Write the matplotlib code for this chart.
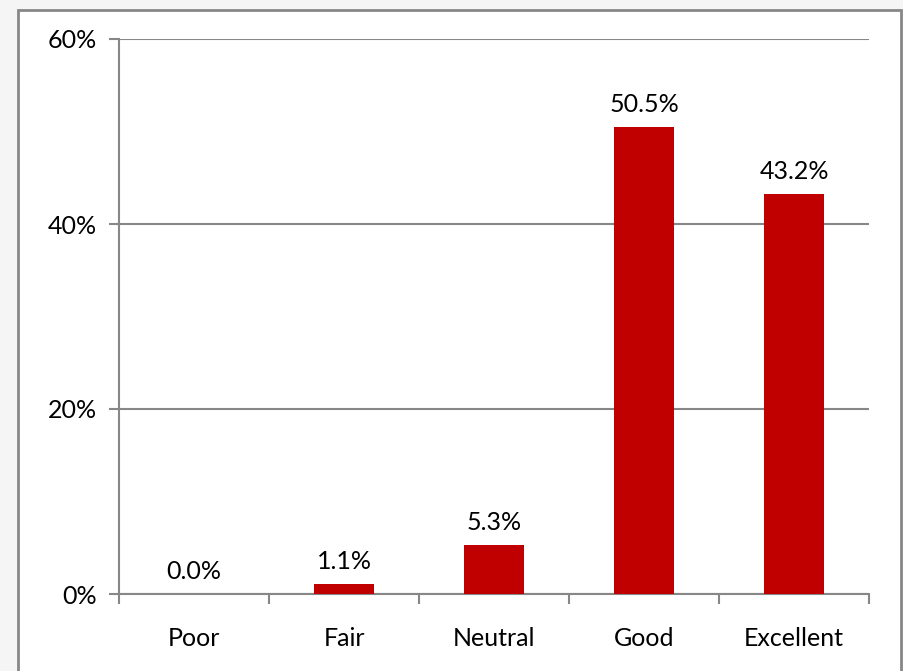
import matplotlib

matplotlib.use("Agg")

import matplotlib.pyplot as plt
from matplotlib.patches import Rectangle
from matplotlib.ticker import FuncFormatter, MultipleLocator


CATEGORIES = ["Poor", "Fair", "Neutral", "Good", "Excellent"]
SHARES = [0.0, 1.1, 5.3, 50.5, 43.2]
BAR_COLOR = "#c00000"
GREY = "#878787"

plt.rcParams["font.family"] = ["Lato", "DejaVu Sans"]

fig = plt.figure(figsize=(9.04, 6.71), dpi=100, facecolor="#f5f5f5")

# Cadre blanc du graphique (façon export tableur)
frame = Rectangle(
    (18 / 904, -0.05), (901 - 18) / 904, 1.05 - 10 / 671,
    transform=fig.transFigure, facecolor="white", edgecolor=GREY,
    linewidth=2, zorder=-5,
)
fig.patches.append(frame)

ax = fig.add_axes([119 / 904, 1 - 594 / 671, 750 / 904, 555 / 671])
ax.set_zorder(1)
ax.set_facecolor("white")

positions = list(range(len(CATEGORIES)))
bars = ax.bar(positions, SHARES, width=0.4, color=BAR_COLOR, zorder=3)

for bar, value in zip(bars, SHARES):
    ax.annotate(
        f"{value:.1f}%",
        (bar.get_x() + bar.get_width() / 2, bar.get_height()),
        xytext=(0, 8), textcoords="offset points",
        ha="center", va="bottom", fontsize=18, color="black",
    )

ax.set_xlim(-0.5, len(CATEGORIES) - 0.5)
ax.set_ylim(0, 60)
ax.yaxis.set_major_locator(MultipleLocator(20))
ax.yaxis.set_major_formatter(FuncFormatter(lambda v, _: f"{v:.0f}%"))
ax.grid(axis="y", color=GREY, linewidth=1.5, zorder=1)

# Graduations aux frontières des catégories, libellés au centre
ax.set_xticks([p - 0.5 for p in positions] + [len(CATEGORIES) - 0.5])
ax.set_xticklabels([])
ax.set_xticks(positions, minor=True)
ax.set_xticklabels(CATEGORIES, minor=True)
ax.tick_params(axis="x", which="major", length=7, width=1.5, color=GREY, direction="out")
ax.tick_params(axis="x", which="minor", length=0, pad=24, labelsize=18, labelcolor="black")
ax.tick_params(axis="y", length=7, width=1.5, color=GREY, pad=9, labelsize=18, labelcolor="black")

for side in ("top", "right"):
    ax.spines[side].set_visible(False)
for side in ("left", "bottom"):
    ax.spines[side].set_color(GREY)
    ax.spines[side].set_linewidth(1.5)

fig.savefig("out.png", dpi=100, facecolor=fig.get_facecolor())
